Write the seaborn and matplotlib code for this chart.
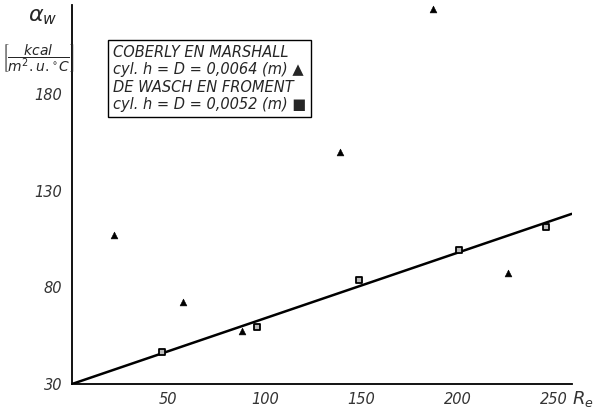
import matplotlib
matplotlib.use("Agg")
import matplotlib.pyplot as plt
import seaborn as sns
import pandas as pd

# Coberly en Marshall (triangles)
cm_re = [22, 57.5, 88, 139, 187, 226]
cm_alpha = [107, 72.5, 57.5, 150, 224, 87.5]

# De Wasch en Froment (squares)
dw_re = [46.5, 96, 149, 200.5, 245.5]
dw_alpha = [46.5, 59.5, 84, 99.5, 111]

# fitted line
fit_re = [0, 259]
fit_alpha = [30, 118]

x_ticks = [50, 100, 150, 200, 250]
y_ticks = [30, 80, 130, 180]

sns.set_style("white")
plt.rcParams['font.family'] = ['DejaVu Sans']
plt.rcParams['mathtext.fontset'] = 'dejavusans'

fig = plt.figure(figsize=(5.93, 4.13), dpi=100)
ax = fig.add_axes([0.121, 0.070, 0.843, 0.918])

df_cm = pd.DataFrame({"Re": cm_re, "alpha": cm_alpha})
df_dw = pd.DataFrame({"Re": dw_re, "alpha": dw_alpha})
df_fit = pd.DataFrame({"Re": fit_re, "alpha": fit_alpha})

sns.lineplot(data=df_fit, x="Re", y="alpha", color="black", linewidth=1.8, ax=ax)
sns.scatterplot(data=df_cm, x="Re", y="alpha", marker="^", s=24, color="black",
                edgecolor="black", ax=ax, zorder=3)
sns.scatterplot(data=df_dw, x="Re", y="alpha", marker="s", s=18, color="#bbbbbb",
                edgecolor="black", linewidth=1.3, ax=ax, zorder=3)

ax.set_xlim(0, 259)
ax.set_ylim(30, 226)
ax.set_xticks(x_ticks)
ax.set_yticks(y_ticks)
ax.set_xlabel("")
ax.set_ylabel("")
for s in ["top", "right"]:
    ax.spines[s].set_visible(False)
for s in ["left", "bottom"]:
    ax.spines[s].set_linewidth(1.3)
    ax.spines[s].set_color("black")
ax.tick_params(axis="both", direction="out", length=3, width=1, colors="black",
               labelsize=10.5, labelcolor="#333333")
ax.tick_params(axis="x", pad=3)
ax.tick_params(axis="y", pad=4)
for lab in ax.get_xticklabels() + ax.get_yticklabels():
    lab.set_fontstyle("italic")

ax.text(0.082, 0.895,
        "COBERLY EN MARSHALL\ncyl. h = D = 0,0064 (m) \u25B2\nDE WASCH EN FROMENT\ncyl. h = D = 0,0052 (m) \u25A0",
        transform=ax.transAxes, fontsize=10.5, fontstyle="italic", va="top", ha="left",
        linespacing=1.2,
        bbox=dict(boxstyle="square,pad=0.35", facecolor="white", edgecolor="black", linewidth=1))

fig.text(0.072, 0.958, r"$\alpha_w$", fontsize=16, ha="center", va="center")
fig.text(0.064, 0.86, r"$\left[\dfrac{kcal}{m^2 . u . ^{\circ}C}\right]$", fontsize=10,
         ha="center", va="center")
fig.text(0.983, 0.033, r"$R_e$", fontsize=13, ha="center", va="center", color="#333333")

fig.savefig("out.png", dpi=100)
